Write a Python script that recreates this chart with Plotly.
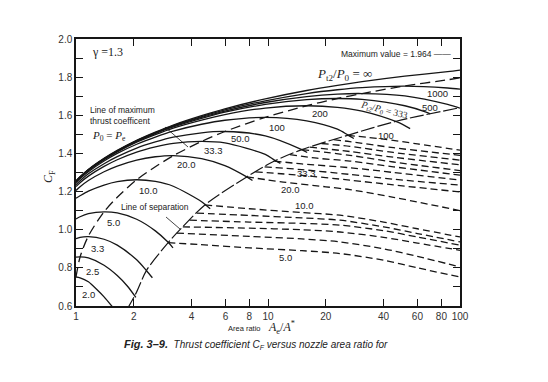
import plotly.graph_objects as go

# ---------------- data ----------------
X_MAIN = [1.0, 1.05, 1.16, 1.4, 1.64, 2.07, 2.59, 3.21, 4.51, 5.96, 9.68, 15.9, 23.0, 30.9, 51.6, 86.2, 100.0]
CF_INF = [1.256, 1.278, 1.316, 1.374, 1.416, 1.469, 1.512, 1.549, 1.598, 1.634, 1.686, 1.730, 1.757, 1.776, 1.805, 1.829, 1.837]
CF_1000 = [1.255, 1.277, 1.315, 1.373, 1.414, 1.467, 1.509, 1.546, 1.593, 1.628, 1.676, 1.714, 1.734, 1.745, 1.753, 1.743, 1.737]
CF_500 = [1.254, 1.276, 1.314, 1.371, 1.413, 1.465, 1.507, 1.543, 1.589, 1.622, 1.667, 1.698, 1.711, 1.714, 1.702, 1.657, 1.637]

X_333 = [1.0, 1.05, 1.16, 1.4, 1.64, 2.07, 2.59, 3.21, 4.51, 5.96, 9.68, 15.9, 23.0, 30.9, 51.6, 66.0, 70.0]
CF_333 = [1.254, 1.275, 1.313, 1.370, 1.411, 1.463, 1.504, 1.539, 1.584, 1.616, 1.657, 1.682, 1.688, 1.683, 1.650, 1.618, 1.607]
X_200 = [1.0, 1.05, 1.16, 1.4, 1.64, 2.07, 2.59, 3.21, 4.51, 5.96, 9.68, 15.9, 23.0, 30.9, 47.0, 55.0]
CF_200 = [1.251, 1.273, 1.310, 1.367, 1.408, 1.459, 1.499, 1.533, 1.575, 1.604, 1.638, 1.650, 1.642, 1.622, 1.565, 1.530]
X_100 = [1.0, 1.05, 1.16, 1.4, 1.64, 2.07, 2.59, 3.21, 4.51, 5.96, 9.68, 15.9, 23.0, 26.0, 28.0]
CF_100 = [1.246, 1.2675, 1.304, 1.360, 1.400, 1.448, 1.486, 1.517, 1.553, 1.574, 1.589, 1.571, 1.527, 1.497, 1.478]
X_50 = [1.0, 1.05, 1.16, 1.4, 1.64, 2.07, 2.59, 3.21, 4.51, 5.96, 9.68, 15.0, 16.0]
CF_50 = [1.236, 1.257, 1.293, 1.346, 1.383, 1.428, 1.460, 1.485, 1.508, 1.515, 1.492, 1.420, 1.405]
X_33 = [1.0, 1.05, 1.16, 1.4, 1.64, 2.07, 2.59, 3.21, 4.51, 5.96, 9.68, 10.8, 11.6]
CF_33 = [1.226, 1.2465, 1.281, 1.332, 1.367, 1.407, 1.434, 1.453, 1.463, 1.455, 1.395, 1.365, 1.348]
X_20 = [1.0, 1.05, 1.16, 1.4, 1.64, 2.07, 2.59, 3.21, 4.51, 5.96, 7.75, 8.3]
CF_20 = [1.206, 1.2255, 1.258, 1.304, 1.334, 1.3655, 1.3825, 1.3885, 1.3725, 1.336, 1.277, 1.258]
X_10 = [1.0, 1.05, 1.16, 1.4, 1.64, 2.07, 2.59, 3.21, 4.51, 4.69, 5.0]
CF_10 = [1.165, 1.178, 1.202, 1.234, 1.252, 1.262, 1.253, 1.228, 1.147, 1.133, 1.110]
X_5 = [1.0, 1.05, 1.16, 1.4, 1.64, 2.07, 2.59, 3.02, 3.2]
CF_5 = [1.056, 1.068, 1.084, 1.094, 1.088, 1.055, 0.994, 0.934, 0.905]
X_3 = [1.0, 1.05, 1.16, 1.4, 1.64, 2.07, 2.33, 2.5]
CF_3 = [0.953, 0.960, 0.964, 0.950, 0.919, 0.842, 0.785, 0.748]
X_25 = [1.0, 1.05, 1.16, 1.4, 1.64, 1.85, 2.05]
CF_25 = [0.856, 0.858, 0.852, 0.814, 0.760, 0.705, 0.645]
X_2 = [1.0, 1.05, 1.16, 1.28, 1.4, 1.55]
CF_2 = [0.752, 0.748, 0.727, 0.688, 0.648, 0.595]

# line of maximum thrust coefficient (P0 = Pe)
X_OPT = [1.0, 1.05, 1.16, 1.4, 1.64, 2.07, 2.59, 3.21, 4.51, 5.96, 9.68, 15.9, 23.0, 30.9, 51.6, 86.2, 100.0]
CF_OPT = [0.752, 0.857, 0.967, 1.094, 1.170, 1.262, 1.330, 1.388, 1.463, 1.515, 1.589, 1.650, 1.688, 1.714, 1.754, 1.786, 1.796]

# line of separation
X_SEP = [1.84, 2.06, 2.33, 3.02, 3.48, 4.69, 7.75, 10.8, 15.0, 26.0, 47.0, 100.0]
CF_SEP = [0.580, 0.670, 0.787, 0.932, 1.000, 1.130, 1.277, 1.360, 1.420, 1.495, 1.570, 1.640]

# dashed curves beyond separation (lower group: 10.0 ... 5.0)
XL1 = [4.69, 8, 15, 23.7, 40, 60, 100]; YL1 = [1.13, 1.11, 1.09, 1.076, 1.04, 1.005, 0.962]
XL2 = [4.25, 8, 15, 23.7, 40, 60, 100]; YL2 = [1.087, 1.075, 1.062, 1.05, 1.015, 0.98, 0.936]
XL3 = [3.9, 8, 15, 23.7, 40, 60, 100]; YL3 = [1.05, 1.04, 1.033, 1.024, 0.995, 0.962, 0.919]
XL4 = [3.6, 8, 15, 23.7, 40, 60, 100]; YL4 = [1.015, 1.008, 1.0, 0.988, 0.96, 0.93, 0.892]
XL5 = [3.35, 8, 15, 23.7, 40, 60, 100]; YL5 = [0.982, 0.965, 0.952, 0.936, 0.9, 0.86, 0.805]
XL6 = [3.02, 4.42, 8, 15, 23.7, 40, 60, 100]; YL6 = [0.932, 0.922, 0.905, 0.89, 0.875, 0.84, 0.80, 0.752]

# dashed curves beyond separation (upper group: 100 ... 20.0)
XU1 = [26, 40, 60, 100]; YU1 = [1.495, 1.475, 1.45, 1.417]
XU2 = [22, 26.7, 45, 100]; YU2 = [1.472, 1.462, 1.43, 1.39]
XU3 = [19, 26.7, 45, 100]; YU3 = [1.452, 1.437, 1.405, 1.365]
XU4 = [16.5, 26.7, 45, 100]; YU4 = [1.433, 1.41, 1.38, 1.34]
XU5 = [15, 26.7, 45, 100]; YU5 = [1.42, 1.39, 1.355, 1.31]
XU6 = [13, 18, 26.7, 45, 100]; YU6 = [1.394, 1.375, 1.36, 1.33, 1.286]
XU7 = [10.8, 15, 26.7, 45, 100]; YU7 = [1.36, 1.345, 1.325, 1.30, 1.26]
XU8 = [9.6, 15, 26.7, 45, 100]; YU8 = [1.33, 1.315, 1.29, 1.265, 1.234]
XU9 = [8.6, 15, 26.7, 45, 100]; YU9 = [1.303, 1.285, 1.26, 1.235, 1.198]
XU10 = [7.75, 12, 20, 26.7, 45, 100]; YU10 = [1.277, 1.25, 1.225, 1.21, 1.17, 1.10]

X_TICKS = [1, 2, 4, 6, 8, 10, 20, 40, 60, 80, 100]
X_TICKTEXT = ["1", "2", "4", "6", "8", "10", "20", "40", "60", "80", "100"]
Y_TICKS = [0.6, 0.8, 1.0, 1.2, 1.4, 1.6, 1.8, 2.0]
Y_TICKTEXT = ["0.6", "0.8", "1.0", "1.2", "1.4", "1.6", "1.8", "2.0"]
Y_MINOR = [0.7, 0.9, 1.1, 1.3, 1.5, 1.7, 1.9]

# ---------------- figure ----------------
INK = "#161616"
SANS = "Liberation Sans"
SERIF = "Liberation Serif"

solid = [(X_MAIN, CF_INF), (X_MAIN, CF_1000), (X_MAIN, CF_500), (X_333, CF_333),
         (X_200, CF_200), (X_100, CF_100), (X_50, CF_50), (X_33, CF_33),
         (X_20, CF_20), (X_10, CF_10), (X_5, CF_5), (X_3, CF_3), (X_25, CF_25), (X_2, CF_2)]
dashed = [(XL1, YL1), (XL2, YL2), (XL3, YL3), (XL4, YL4), (XL5, YL5), (XL6, YL6),
          (XU1, YU1), (XU2, YU2), (XU3, YU3), (XU4, YU4), (XU5, YU5),
          (XU6, YU6), (XU7, YU7), (XU8, YU8), (XU9, YU9), (XU10, YU10)]

fig = go.Figure()
for xs, ys in solid:
    fig.add_trace(go.Scatter(x=xs, y=ys, mode="lines", hoverinfo="skip",
                             line=dict(color=INK, width=1.3, shape="spline", smoothing=0.8)))
for xs, ys in dashed:
    fig.add_trace(go.Scatter(x=xs, y=ys, mode="lines", hoverinfo="skip",
                             line=dict(color=INK, width=1.3, dash="7px,4px", shape="spline", smoothing=0.8)))
fig.add_trace(go.Scatter(x=X_OPT, y=CF_OPT, mode="lines", hoverinfo="skip",
                         line=dict(color=INK, width=1.3, dash="10px,5px", shape="spline", smoothing=0.8)))
fig.add_trace(go.Scatter(x=X_SEP, y=CF_SEP, mode="lines", hoverinfo="skip",
                         line=dict(color=INK, width=1.2, dash="14px,3px", shape="spline", smoothing=0.8)))


def P(px, py):
    """pixel position in the 548x382 picture -> paper coordinates"""
    return (px - 76) / 384.0, (306 - py) / 267.0


ann = []
shapes = []


def label(text, px, py, size=9.5, family=SANS, angle=0, xanchor="center", align="center", color="#222"):
    x, y = P(px, py)
    ann.append(dict(text=text, x=x, y=y, xref="paper", yref="paper", showarrow=False,
                    xanchor=xanchor, yanchor="middle", align=align, textangle=angle,
                    font=dict(family=family, size=size, color=color)))


def pointer(tip, tail):
    x0, y0 = P(*tail)
    x1, y1 = P(*tip)
    shapes.append(dict(type="line", xref="paper", yref="paper", x0=x0, y0=y0, x1=x1, y1=y1,
                       line=dict(color=INK, width=0.8)))


label("γ =1.3", 107, 52, size=12, family=SERIF)
label("Line of maximum<br>thrust coefficent", 88, 115, size=8.5, xanchor="left", align="left")
label("<i>P</i><sub>0</sub> = <i>P</i><sub>e</sub>", 90, 136, size=11, family=SERIF, xanchor="left")
pointer((188, 147), (165, 127))
label("Line of separation", 155, 207, size=8.5)
pointer((180, 229), (166, 217))

for t, px, py in [("2.0", 88, 294), ("2.5", 92, 271), ("3.3", 97, 248), ("5.0", 113, 222),
                  ("10.0", 148, 190), ("20.0", 186, 164), ("33.3", 213, 150), ("50.0", 240, 138),
                  ("100", 277, 127), ("200", 320, 113), ("1000", 437, 93), ("500", 430, 108),
                  ("100", 386, 135), ("33.3", 306, 173), ("20.0", 290, 189), ("10.0", 304, 205),
                  ("5.0", 285, 257)]:
    label(t, px, py, size=9.5)

label("Maximum value = 1.964 ——", 396, 54, size=8.5)
label("<i>P</i><sub>t2</sub>/<i>P</i><sub>0</sub> = ∞", 344, 74, size=13, family=SERIF)
label("<i>P</i><sub>t2</sub>/<i>P</i><sub>0</sub> = 333", 384, 110, size=9.5, family=SERIF, angle=14)

label("Area ratio", 244, 328, size=7.5)
label("<i>A</i><sub>e</sub>/<i>A</i><sup>*</sup>", 281, 327, size=12, family=SERIF)
label("<i>C</i><sub>F</sub>", 49, 177, size=12, family=SERIF, angle=-90)
label("<b><i><span style='font-size:11px'>Fig. 3–9.</span></i></b>"
      "<i>  Thrust coefficient C<sub>F</sub> versus nozzle area ratio for</i>",
      256, 344, size=10)

axis_common = dict(showline=True, linecolor=INK, linewidth=1.5, mirror="ticks",
                   ticks="inside", ticklen=7, tickwidth=1, tickcolor=INK,
                   showgrid=False, zeroline=False,
                   tickfont=dict(family=SANS, size=10, color="#333"))

fig.update_layout(
    width=548, height=382, autosize=False,
    margin=dict(l=76, r=88, t=39, b=76),
    paper_bgcolor="white", plot_bgcolor="white",
    showlegend=False,
    annotations=ann,
    shapes=shapes,
    xaxis=dict(type="log", range=[0, 2], tickvals=X_TICKS, ticktext=X_TICKTEXT, **axis_common),
    yaxis=dict(range=[0.6, 2.0], tickvals=Y_TICKS, ticktext=Y_TICKTEXT,
               minor=dict(tickvals=Y_MINOR, ticks="inside", ticklen=7, tickcolor=INK),
               **axis_common),
)

fig.write_html("out.html", config={"displayModeBar": False},
               post_script="document.body.style.margin='0';document.body.style.overflow='hidden';")
